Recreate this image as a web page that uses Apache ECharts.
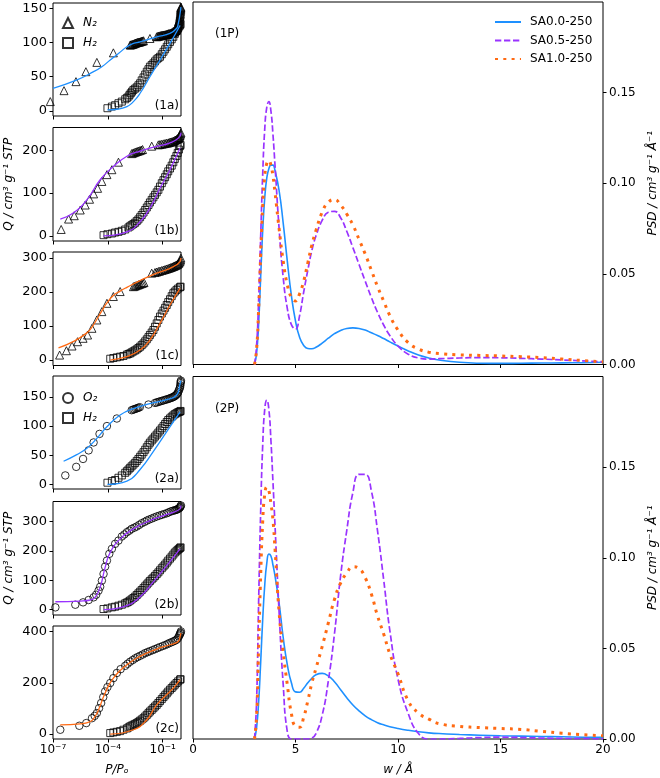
<!DOCTYPE html>
<html><head><meta charset="utf-8">
<script src="https://cdn.jsdelivr.net/npm/echarts@6.0.0/dist/echarts.min.js"></script>
<style>html,body{margin:0;padding:0;background:#fff}#c{width:660px;height:778px}</style>
</head><body><div id="c"></div><script>
// ---------- PSD data (w in Å) ----------
const psdW = [3.0,3.1,3.2,3.3,3.4,3.5,3.6,3.7,3.8,3.9,4.0,4.2,4.4,4.6,4.8,5.0,5.2,5.4,5.6,5.8,6.0,6.3,6.6,6.9,7.2,7.5,7.8,8.1,8.4,8.7,9.0,9.3,9.6,10,10.5,11,11.5,12,13,14,15,16,17,18,19,20];
const psd1_SA00 = [0,0.006,0.022,0.048,0.074,0.092,0.103,0.108,0.110,0.110,0.107,0.096,0.078,0.057,0.038,0.024,0.015,0.0105,0.0088,0.0087,0.0095,0.0118,0.0145,0.017,0.0188,0.0199,0.0202,0.0199,0.019,0.0175,0.016,0.0143,0.0125,0.0102,0.0075,0.0052,0.0036,0.0025,0.0012,0.0007,0.0006,0.0007,0.0008,0.0009,0.001,0.0012];
const psd1_SA05 = [0,0.01,0.035,0.07,0.105,0.13,0.142,0.145,0.14,0.127,0.11,0.075,0.048,0.031,0.022,0.0195,0.027,0.04,0.052,0.063,0.071,0.0795,0.084,0.0845,0.081,0.0735,0.0645,0.0552,0.046,0.037,0.0288,0.0218,0.016,0.0102,0.0057,0.0036,0.003,0.0032,0.0036,0.0038,0.0037,0.0034,0.003,0.0025,0.002,0.0015];
const psd1_SA10 = [0,0.008,0.03,0.06,0.087,0.104,0.111,0.1125,0.11,0.104,0.095,0.075,0.057,0.044,0.037,0.035,0.039,0.046,0.056,0.066,0.074,0.084,0.0895,0.091,0.088,0.083,0.077,0.069,0.061,0.052,0.043,0.035,0.027,0.019,0.012,0.0085,0.0068,0.006,0.0053,0.005,0.0047,0.0043,0.0038,0.003,0.0022,0.0015];
const psd2_SA00 = [0,0.006,0.02,0.042,0.066,0.085,0.097,0.102,0.101,0.096,0.09,0.075,0.056,0.041,0.031,0.026,0.0258,0.028,0.031,0.0335,0.0355,0.0362,0.0348,0.0316,0.0272,0.0228,0.0188,0.0155,0.0128,0.0107,0.009,0.0078,0.0068,0.0058,0.0048,0.004,0.0034,0.003,0.0025,0.0021,0.0018,0.0016,0.0014,0.0012,0.001,0.0009];
const psd2_SA05 = [0,0.02,0.075,0.125,0.162,0.182,0.187,0.182,0.165,0.142,0.118,0.07,0.03,0.004,0,0,0,0,0,0.0005,0.003,0.013,0.032,0.058,0.09,0.115,0.136,0.146,0.146,0.137,0.115,0.088,0.06,0.033,0.014,0.003,0,0,0.0003,0.0008,0.001,0.0008,0.0005,0.0003,0.0002,0.0001];
const psd2_SA10 = [0,0.012,0.05,0.09,0.12,0.135,0.139,0.137,0.13,0.121,0.105,0.07,0.048,0.03,0.014,0.007,0.0065,0.012,0.021,0.031,0.039,0.051,0.064,0.077,0.086,0.0915,0.095,0.094,0.089,0.08,0.068,0.058,0.047,0.036,0.021,0.0143,0.011,0.0085,0.007,0.0063,0.0058,0.0053,0.0042,0.0032,0.0024,0.0018];
const psdNames = ['SA0.0-250','SA0.5-250','SA1.0-250'];

// ---------- Isotherms (P/Po, Q) ----------
// panel 1a
const p1a_N2 = [7.1e-8,4.0e-7,1.8e-6,6.3e-6,2.5e-5,2.0e-4,1.66e-3,1.8e-3,2.0e-3,2.25e-3,2.5e-3,2.8e-3,3.1e-3,3.4e-3,3.8e-3,4.2e-3,4.7e-3,5.2e-3,5.8e-3,6.4e-3,7.1e-3,8.0e-3,8.9e-3,2.0e-2,4.7e-2,5.3e-2,6.0e-2,6.7e-2,7.5e-2,8.2e-2,8.9e-2,0.1,0.11,0.12,0.135,0.15,0.165,0.18,0.2,0.22,0.25,0.28,0.31,0.33,0.36,0.39,0.42,0.45,0.48,0.51,0.54,0.57,0.6,0.63,0.66,0.69,0.71,0.74,0.76,0.79,0.81,0.83,0.85,0.87,0.89,0.91,0.92,0.94,0.95,0.96,0.97,0.98,0.99];
const q1a_N2 = [13.6,29.6,42.8,57.4,71,85,96.4,96.7,97,97.4,97.8,98.4,99,99.4,99.8,100.2,100.5,100.8,101,101.5,102,102.4,102.7,106,108.5,109,109.5,109.8,110,110.3,110.5,110.8,111,111.2,111.4,111.7,112,112.4,112.9,113.2,113.5,114,114.4,114.7,115,115.4,115.8,116.4,117,117.5,118,119,120,121.5,123,125,127,128.5,130,131.5,133,135,137,138.5,140,141.5,143,145,147,148.5,150,151,152];
const p1a_H2 = [9.5e-5,1.66e-4,2.5e-4,3.8e-4,5.8e-4,8.9e-4,1.1e-3,1.35e-3,1.55e-3,1.8e-3,2.1e-3,2.5e-3,3.1e-3,3.8e-3,4.7e-3,5.8e-3,7.1e-3,8.9e-3,1.1e-2,1.35e-2,1.66e-2,2.0e-2,2.5e-2,3.1e-2,3.8e-2,4.7e-2,5.8e-2,7.1e-2,8.9e-2,0.11,0.135,0.166,0.2,0.25,0.31,0.38,0.46,0.57,0.7,0.8,0.89,0.95];
const q1a_H2 = [3.9,6.3,8.3,11.2,13.6,17,19,21,23.5,25.8,28.2,30.7,32.6,34.5,37.5,40.4,44.7,49,53.2,57.4,61,64.7,67.2,69.6,72.5,75.4,77.3,79.3,83,86.6,90.2,93.9,97.5,101,104.8,108.5,112.8,117,121,123.5,125.5,127];
const fp1a_N2 = [1e-7,1.9e-6,1.66e-5,4.7e-5,1.35e-4,3.8e-4,1.1e-3,2.5e-3,5.8e-3,4.7e-2,0.25,0.57,0.71,0.89,0.99];
const fq1a_N2 = [33,45,57.4,64.7,74.5,84,93.9,98.8,101,108.5,113.4,120.7,128,142.6,152];
const fp1a_H2 = [9.5e-5,3.1e-4,1.1e-3,2.5e-3,5.8e-3,2.0e-2,7.1e-2,0.25,0.89];
const fq1a_H2 = [1.5,2.4,6.3,13.6,25.8,50,74.5,98.8,125];
// panel 1b
const p1b_N2 = [2.8e-7,7.1e-7,1.45e-6,3.1e-6,5.8e-6,1e-5,1.66e-5,2.75e-5,4.7e-5,8.9e-5,1.66e-4,3.8e-4,2.0e-3,2.4e-3,2.8e-3,3.4e-3,4.0e-3,4.7e-3,5.6e-3,6.7e-3,7.9e-3,2.5e-2,5.8e-2,7.1e-2,8.9e-2,0.11,0.135,0.165,0.2,0.23,0.27,0.31,0.35,0.4,0.46,0.51,0.57,0.64,0.71,0.76,0.81,0.86,0.9,0.95,0.99];
const q1b_N2 = [14.9,39.2,47,60.4,72,85.5,98,111,127,143,154.5,172,192,193.3,194.5,195.8,197,198,199,200.3,201.6,209.4,212.5,213.2,214,214.8,215.7,216.4,217,218,219,219.5,220,221.3,222.7,223.8,225,226.5,228,229.5,231,233,235,238,240.8];
const p1b_H2 = [5.8e-5,9.5e-5,1.66e-4,2.5e-4,3.8e-4,5.8e-4,8.9e-4,1.35e-3,1.65e-3,2.0e-3,2.5e-3,3.1e-3,3.8e-3,4.7e-3,5.8e-3,7.1e-3,8.9e-3,1.1e-2,1.35e-2,1.66e-2,2.0e-2,2.5e-2,3.1e-2,3.8e-2,4.7e-2,5.8e-2,7.1e-2,8.9e-2,0.11,0.135,0.166,0.2,0.25,0.31,0.38,0.46,0.56,0.66,0.77,0.89,0.95];
const q1b_H2 = [1.6,3.9,5.5,7.8,9.4,11.8,14.9,19.6,22.3,25,27.8,30.6,34.5,38.4,43.5,48.6,54.5,60.4,66.2,72,78,84,90,95.7,101.6,107.5,115,123,130,137,143.8,150.6,157.3,164,171.8,179.6,186.6,193.7,201.5,209.4,212];
const fp1b_N2 = [2.5e-7,1.35e-6,7.1e-6,3.8e-5,2.0e-4,1.1e-3,5.8e-3,4.7e-2,0.25,0.89,0.99];
const fq1b_N2 = [39,54,84,131,162,186,198,209,217,233,241];
const fp1b_H2 = [5.8e-5,1.1e-3,5.8e-3,2.2e-2,7.1e-2,0.25,0.89];
const fq1b_H2 = [0,9.4,33,68,111,154.5,205];
// panel 1c
const p1c_N2 = [2.3e-7,5.4e-7,1.1e-6,2.2e-6,4.4e-6,7.8e-6,1.35e-5,2.5e-5,4.7e-5,8.9e-5,2.0e-4,4.7e-4,2.5e-3,3.0e-3,3.5e-3,4.2e-3,4.9e-3,5.8e-3,6.9e-3,8.1e-3,9.5e-3,2.5e-2,3.8e-2,4.7e-2,5.8e-2,7.1e-2,8.9e-2,0.11,0.135,0.165,0.2,0.24,0.28,0.33,0.38,0.43,0.49,0.56,0.63,0.7,0.76,0.83,0.9,0.95,0.99];
const q1c_N2 = [14.7,27.5,41.3,54,64,73.7,93.4,118,142.6,167,187,201.6,216,217.5,219,220.5,222,223.5,225,226.5,228,255.7,257.6,259,260.6,262,263.5,265,266.5,268,269.4,271,272.4,273.8,275.3,276.6,278,279.5,281,283,285,288,291,295,300];
const p1c_H2 = [1.35e-4,2.0e-4,3.1e-4,4.7e-4,7.1e-4,1.1e-3,1.35e-3,1.66e-3,2.0e-3,2.5e-3,3.1e-3,3.8e-3,4.7e-3,5.8e-3,7.1e-3,8.9e-3,1.1e-2,1.35e-2,1.66e-2,2.0e-2,2.5e-2,3.1e-2,3.8e-2,4.7e-2,5.8e-2,7.1e-2,8.9e-2,0.11,0.135,0.166,0.2,0.25,0.31,0.38,0.46,0.57,0.7,0.89,0.95];
const q1c_H2 = [4,6,8,10,12,16,18,19.7,22.6,25.6,28.5,31.5,35.4,39.3,44,49,55,61,67.5,74,81,88.5,98,108,118,128,137,145.5,153.8,162,170.5,179,188,196.7,201.5,206.5,210.5,214.4,216];
const fp1c_N2 = [2.0e-7,1.35e-6,7.1e-6,1.35e-5,2.5e-5,4.7e-5,8.9e-5,2.0e-4,4.7e-4,1.1e-3,5.8e-3,4.7e-2,0.25,0.89,0.99];
const fq1c_N2 = [36,55,80,97,120,145,168,190,203,214,234,255.7,270,290,300];
const fp1c_H2 = [1.35e-4,1.1e-3,5.8e-3,2.0e-2,7.1e-2,0.25,0.89];
const fq1c_H2 = [0,10,29.5,59,108,162,211];
// panel 2a
const p2a_O2 = [4.7e-7,1.86e-6,4.4e-6,8.9e-6,1.66e-5,3.5e-5,8.9e-5,3.1e-4,2.0e-3,2.4e-3,2.8e-3,3.4e-3,4.0e-3,4.7e-3,5.6e-3,1.66e-2,3.8e-2,4.7e-2,5.8e-2,7.1e-2,8.9e-2,0.11,0.135,0.165,0.2,0.24,0.28,0.33,0.38,0.43,0.49,0.56,0.63,0.7,0.76,0.83,0.89,0.92,0.95,0.97,0.99];
const q2a_O2 = [15.3,30,43.6,58.3,71.9,86.6,100,113,127.3,128.2,129,129.8,130.7,131.5,132.4,137,139.8,140.6,141.5,142.4,143.2,144.1,145,145.8,146.6,147.4,148.3,149.1,150,151,152.2,153.8,155.6,158,161.3,164,167,170,173.7,176,178];
const p2a_H2 = [9.5e-5,1.66e-4,2.5e-4,3.8e-4,5.8e-4,8.9e-4,1.1e-3,1.35e-3,1.65e-3,2.0e-3,2.5e-3,3.1e-3,3.8e-3,4.7e-3,5.8e-3,7.1e-3,8.9e-3,1.1e-2,1.35e-2,1.66e-2,2.0e-2,2.5e-2,3.1e-2,3.8e-2,4.7e-2,5.8e-2,7.1e-2,8.9e-2,0.11,0.135,0.166,0.2,0.25,0.31,0.38,0.46,0.56,0.66,0.77,0.89,0.95];
const q2a_H2 = [2.8,5.7,7.4,11.3,15.3,19.8,22.6,25.5,28.3,31,33.9,36.8,40.2,43.6,47.3,51,55.2,59.4,63.7,68,71.6,75.3,78.6,82,85.4,88.9,92.5,96.2,99.9,103.6,107,110.4,113.2,116,118.3,120.5,122,123.4,124.2,125,126];
const fp2a_O2 = [3.8e-7,2.0e-6,7.1e-6,2.5e-5,8.9e-5,4.7e-4,2.5e-3,2.0e-2,0.166,0.57,0.89,0.99];
const fq2a_O2 = [39.6,51,62,79,99,119,130,138.7,145.4,153,172.6,178];
const fp2a_H2 = [9.5e-5,1.1e-3,5.8e-3,3.1e-2,0.166,0.89];
const fq2a_H2 = [0,5.7,25.5,56.6,90.5,124.5];
// panel 2b
const p2b_O2 = [1.35e-7,1.66e-6,4.4e-6,8.9e-6,1.66e-5,2.3e-5,3.1e-5,3.8e-5,4.7e-5,5.8e-5,7.1e-5,8.9e-5,1.2e-4,1.66e-4,2.5e-4,3.8e-4,5.8e-4,8.0e-4,1.1e-3,1.5e-3,2.0e-3,2.8e-3,3.8e-3,5.2e-3,7.1e-3,1.0e-2,1.35e-2,1.8e-2,2.5e-2,3.4e-2,4.7e-2,6.5e-2,8.9e-2,0.12,0.166,0.21,0.27,0.34,0.42,0.5,0.57,0.66,0.76,0.84,0.9,0.95,0.99];
const q2b_O2 = [8,17,25,33,42,51,65,78,99,121.6,146.6,167,190,207,224,235,249,256,263.6,269,275,279,283,288.5,294,298.5,303,306.5,310,313.5,317,320,322.7,325.5,328,331,334,336,337.5,339,340,342,344,346.5,349,351.5,354.5];
const p2b_H2 = [5.8e-5,9.5e-5,1.66e-4,2.5e-4,3.8e-4,5.8e-4,8.9e-4,1.1e-3,1.35e-3,1.65e-3,2.0e-3,2.5e-3,3.1e-3,3.8e-3,4.7e-3,5.8e-3,7.1e-3,8.9e-3,1.1e-2,1.35e-2,1.66e-2,2.0e-2,2.5e-2,3.1e-2,3.8e-2,4.7e-2,5.8e-2,7.1e-2,8.9e-2,0.11,0.135,0.166,0.2,0.25,0.31,0.38,0.46,0.56,0.66,0.77,0.89,0.95];
const q2b_H2 = [2.3,4.5,8,10.2,13.6,17,21.6,24.4,27.3,31.2,35.2,39.8,44.3,50,55.7,61.3,67,73.3,79.5,85.8,92,97.7,103.4,109,114.8,121,127,134,141,147.2,153.4,160.2,167,173.8,180.7,187.5,194.3,198.8,203.4,206.7,210,212];
const fp2b_O2 = [1.35e-7,3.1e-6,1.1e-5,2.0e-5,3.8e-5,7.1e-5,1.35e-4,4.7e-4,2.5e-3,2.0e-2,0.166,0.89,0.99];
const fq2b_O2 = [27,29.5,33,42,76,144,195,241,275,303,324,343,354];
const fp2b_H2 = [5.8e-5,1.1e-3,5.8e-3,2.9e-2,0.166,0.89];
const fq2b_H2 = [0,13.6,44,93,150,207];
// panel 2c
const p2c_O2 = [2.5e-7,2.75e-6,6.6e-6,1.35e-5,1.9e-5,2.5e-5,3.3e-5,4.3e-5,5.6e-5,7.1e-5,9.5e-5,1.35e-4,2.0e-4,3.1e-4,5.0e-4,8.9e-4,1.2e-3,1.66e-3,2.3e-3,3.1e-3,4.2e-3,5.8e-3,8.0e-3,1.1e-2,1.5e-2,2.0e-2,2.8e-2,3.8e-2,5.2e-2,7.1e-2,0.1,0.135,0.18,0.23,0.3,0.38,0.47,0.57,0.67,0.76,0.84,0.9,0.95,0.99];
const q2c_O2 = [17,32.5,43,62,71,82,101,121,144,166,183,199,218,238,253,266,274,282,288.5,295,300,305,310,315.6,319.3,323,327,331,335,339,343,346.8,350.6,354.5,357.8,361,364,367.5,373,380.5,386,391,395,400];
const p2c_H2 = [1.35e-4,2.0e-4,3.1e-4,4.7e-4,7.1e-4,1.1e-3,1.35e-3,1.66e-3,2.0e-3,2.5e-3,3.1e-3,3.8e-3,4.7e-3,5.8e-3,7.1e-3,8.9e-3,1.1e-2,1.35e-2,1.66e-2,2.0e-2,2.5e-2,3.1e-2,3.8e-2,4.7e-2,5.8e-2,7.1e-2,8.9e-2,0.11,0.135,0.166,0.2,0.25,0.31,0.38,0.46,0.57,0.7,0.89,0.95];
const q2c_H2 = [4,6.5,9,11.7,17,22,26,30,33.2,36.4,39.7,43,47.5,52,57,62,68.5,75,81.5,88,94.5,101,107.5,114,121.3,128.6,136.3,144,151.2,158.4,165.7,173,179.5,186,192.5,199,205.5,212,214];
const fp2c_O2 = [2.5e-7,3.1e-6,1.1e-5,2.0e-5,3.1e-5,7.1e-5,2.0e-4,1.1e-3,5.8e-3,4.7e-2,0.25,0.71,0.89,0.99];
const fq2c_O2 = [36,40,49,69,95,160,218,270,302.6,331,348,361,380,393];
const fp2c_H2 = [1.35e-4,2.5e-3,1.35e-2,4.7e-2,0.38,0.89];
const fq2c_H2 = [0,17,56,114,179,212];

// ---------- ticks ----------
const logTicks = [1e-7,1e-4,1e-1];
const yTicks1a = [0,50,100,150];
const yTicks1b = [0,100,200];
const yTicks1c = [0,100,200,300];
const yTicks2a = [0,50,100,150];
const yTicks2b = [0,100,200,300];
const yTicks2c = [0,200,400];
const psdTicks = [0,0.05,0.10,0.15];
const wTicks = [0,5,10,15,20];
const panelLabels = ['(1a)','(1b)','(1c)','(2a)','(2b)','(2c)'];

// ---------- styling / layout ----------
const FONT = 'DejaVu Sans';
const BLUE = '#1e90ff', PURPLE = '#9933ff', ORANGE = '#ff6a13';
const zip = (a,b) => a.map((v,i)=>[v,b[i]]);
const sup = {'-':'⁻','0':'⁰','1':'¹','2':'²','3':'³','4':'⁴','5':'⁵','6':'⁶','7':'⁷','8':'⁸','9':'⁹'};
const powLabel = v => '10' + String(Math.round(Math.log10(v))).split('').map(c=>sup[c]).join('');

const panels = [
  {top:3,    h:113,   yMin:-7.5, yMax:158, ticks:yTicks1a, color:BLUE,   gas:'N₂', sym:'triangle', gP:p1a_N2, gQ:q1a_N2, hP:p1a_H2, hQ:q1a_H2, fgP:fp1a_N2, fgQ:fq1a_N2, fhP:fp1a_H2, fhQ:fq1a_H2},
  {top:127.5,h:113.5, yMin:-12,  yMax:253, ticks:yTicks1b, color:PURPLE, gas:'N₂', sym:'triangle', gP:p1b_N2, gQ:q1b_N2, hP:p1b_H2, hQ:q1b_H2, fgP:fp1b_N2, fgQ:fq1b_N2, fhP:fp1b_H2, fhQ:fq1b_H2},
  {top:252,  h:113.5, yMin:-16,  yMax:318, ticks:yTicks1c, color:ORANGE, gas:'N₂', sym:'triangle', gP:p1c_N2, gQ:q1c_N2, hP:p1c_H2, hQ:q1c_H2, fgP:fp1c_N2, fgQ:fq1c_N2, fhP:fp1c_H2, fhQ:fq1c_H2},
  {top:376,  h:113,   yMin:-8,   yMax:186, ticks:yTicks2a, color:BLUE,   gas:'O₂', sym:'circle',   gP:p2a_O2, gQ:q2a_O2, hP:p2a_H2, hQ:q2a_H2, fgP:fp2a_O2, fgQ:fq2a_O2, fhP:fp2a_H2, fhQ:fq2a_H2},
  {top:501.5,h:113.5, yMin:-18,  yMax:368, ticks:yTicks2b, color:PURPLE, gas:'O₂', sym:'circle',   gP:p2b_O2, gQ:q2b_O2, hP:p2b_H2, hQ:q2b_H2, fgP:fp2b_O2, fgQ:fq2b_O2, fhP:fp2b_H2, fhQ:fq2b_H2},
  {top:626,  h:113,   yMin:-19,  yMax:421, ticks:yTicks2c, color:ORANGE, gas:'O₂', sym:'circle',   gP:p2c_O2, gQ:q2c_O2, hP:p2c_H2, hQ:q2c_H2, fgP:fp2c_O2, fgQ:fq2c_O2, fhP:fp2c_H2, fhQ:fq2c_H2}
];
const rightPanels = [
  {top:2,     h:362.5, data:[psd1_SA00, psd1_SA05, psd1_SA10], label:'(1P)'},
  {top:376.5, h:362.5, data:[psd2_SA00, psd2_SA05, psd2_SA10], label:'(2P)'}
];

const grids = [], xAxes = [], yAxes = [], series = [], graphics = [];
const tickStyle = {length:3.5, lineStyle:{color:'#000', width:1}};
const lblStyle = {fontFamily:FONT, fontSize:12, color:'#000'};
const nameStyle = {fontFamily:FONT, fontSize:12, fontStyle:'italic', color:'#000'};

panels.forEach((p,i) => {
  grids.push({left:53, top:p.top, width:128, height:p.h, show:true, borderColor:'#000', borderWidth:1, outerBoundsMode:'none', containLabel:false});
  xAxes.push({gridIndex:i, type:'log', logBase:10, min:1e-7, max:1,
    axisLine:{show:false, onZero:false}, splitLine:{show:false}, minorTick:{show:false},
    axisTick:Object.assign({show:true, customValues:logTicks}, tickStyle),
    axisLabel:Object.assign({show:i===5, customValues:logTicks, formatter:powLabel, margin:5}, lblStyle),
    name: i===5 ? 'P/Pₒ' : '', nameLocation:'middle', nameGap:25, nameTextStyle:nameStyle});
  yAxes.push({gridIndex:i, type:'value', min:p.yMin, max:p.yMax,
    axisLine:{show:false, onZero:false}, splitLine:{show:false},
    axisTick:Object.assign({show:true, customValues:p.ticks}, tickStyle),
    axisLabel:Object.assign({customValues:p.ticks, margin:6}, lblStyle, {fontSize:13}),
    name: (i===1||i===4) ? 'Q / cm³ g⁻¹ STP' : '', nameLocation:'middle', nameGap:38, nameTextStyle:nameStyle});
  const mk = {color:'rgba(0,0,0,0)', borderColor:'#000', borderWidth:1};
  series.push({type:'scatter', name:p.gas, xAxisIndex:i, yAxisIndex:i, symbol:p.sym, symbolSize: p.sym==='triangle'?8:7.5,
    itemStyle:mk, clip:false, z:2, data:zip(p.gP,p.gQ)});
  series.push({type:'scatter', name:'H₂', xAxisIndex:i, yAxisIndex:i, symbol:'rect', symbolSize:7,
    itemStyle:mk, clip:false, z:2, data:zip(p.hP,p.hQ)});
  [[p.fgP,p.fgQ],[p.fhP,p.fhQ]].forEach(([a,b]) => series.push({type:'line', name:'fit', xAxisIndex:i, yAxisIndex:i,
    symbol:'none', smooth:0.5, z:3, lineStyle:{color:p.color, width:1.3}, data:zip(a,b)}));
  graphics.push({type:'text', x:179, y:p.top+p.h-10, z:10,
    style:{text:panelLabels[i], font:'12px "DejaVu Sans"', fill:'#000', align:'right', verticalAlign:'middle'}});
});

const psdStyles = [
  {color:BLUE, width:1.6, type:'solid'},
  {color:PURPLE, width:1.7, type:[6.3,2.7]},
  {color:ORANGE, width:3, type:[3,5.3]}
];
rightPanels.forEach((r,k) => {
  const gi = 6 + k;
  grids.push({left:193, top:r.top, width:410, height:r.h, show:true, borderColor:'#000', borderWidth:1, outerBoundsMode:'none', containLabel:false});
  xAxes.push({gridIndex:gi, type:'value', min:0, max:20, interval:5,
    axisLine:{show:false, onZero:false}, splitLine:{show:false},
    axisTick:Object.assign({show:true, customValues:wTicks}, tickStyle),
    axisLabel:Object.assign({show:k===1, customValues:wTicks, margin:5}, lblStyle),
    name: k===1 ? 'w / Å' : '', nameLocation:'middle', nameGap:25, nameTextStyle:nameStyle});
  yAxes.push({gridIndex:gi, type:'value', position:'right', min:0, max:0.2,
    axisLine:{show:false, onZero:false}, splitLine:{show:false},
    axisTick:Object.assign({show:true, customValues:psdTicks}, tickStyle),
    axisLabel:Object.assign({customValues:psdTicks, margin:6, formatter:v=>v.toFixed(2)}, lblStyle),
    name:'PSD / cm³ g⁻¹ Å⁻¹', nameLocation:'middle', nameGap:43, nameTextStyle:nameStyle});
  r.data.forEach((d,j) => series.push({type:'line', name:psdNames[j], xAxisIndex:gi, yAxisIndex:gi,
    symbol:'none', smooth:0.5, z:3+j, lineStyle:psdStyles[j], itemStyle:{color:psdStyles[j].color},
    data:zip(psdW,d)}));
  graphics.push({type:'text', x:215, y:r.top+32, z:10,
    style:{text:r.label, font:'12px "DejaVu Sans"', fill:'#000', align:'left', verticalAlign:'middle'}});
});

const option = {
  animation:false, backgroundColor:'#fff',
  textStyle:{fontFamily:FONT},
  grid:grids, xAxis:xAxes, yAxis:yAxes, series:series, graphic:graphics,
  legend:[
    {data:psdNames, left:489, top:11, orient:'vertical', itemWidth:26, itemHeight:12, itemGap:6.5, selectedMode:false,
      itemStyle:{opacity:0},
      textStyle:{fontFamily:FONT, fontSize:12, color:'#000', padding:[0,0,0,4]}},
    {data:['N₂','H₂'], left:57, top:12, orient:'vertical', itemWidth:10, itemHeight:10, itemGap:8, selectedMode:false,
      textStyle:{fontFamily:FONT, fontSize:12, fontStyle:'italic', color:'#000', padding:[0,0,0,5]}},
    {data:['O₂','H₂'], left:57, top:387, orient:'vertical', itemWidth:10, itemHeight:10, itemGap:8, selectedMode:false,
      textStyle:{fontFamily:FONT, fontSize:12, fontStyle:'italic', color:'#000', padding:[0,0,0,5]}}
  ]
};
const chart = echarts.init(document.getElementById('c'), null, {renderer:'canvas'});
chart.setOption(option);
</script></body></html>
